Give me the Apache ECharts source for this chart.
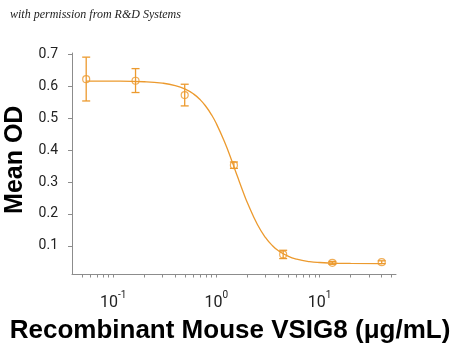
<!DOCTYPE html>
<html>
<head>
<meta charset="utf-8">
<script src="https://cdn.jsdelivr.net/npm/echarts@6/dist/echarts.min.js"></script>
<style>
  html, body { margin: 0; padding: 0; background: #fff; }
  #main { width: 450px; height: 352px; }
</style>
</head>
<body>
<div id="main"></div>
<script>
// measured points (ug/mL, mean OD, error bar ends)
const concentrations = [0.0549, 0.165, 0.494, 1.48, 4.44, 13.3, 40];
const meanOD = [0.623, 0.618, 0.573, 0.353, 0.073, 0.0465, 0.0487];
const errLow = [0.5545, 0.581, 0.539, 0.343, 0.060, 0.042, 0.044];
const errHigh = [0.692, 0.656, 0.607, 0.363, 0.086, 0.051, 0.053];

// fitted curve
const curveConc = [0.0549, 0.1, 0.2, 0.3, 0.4, 0.5, 0.6, 0.7, 0.8, 0.9, 1.0, 1.2, 1.4, 1.6, 1.8, 2.0, 2.5, 3.0, 3.5, 4.0, 5.0, 6.0, 8.0, 10, 15, 20, 40];
const curveOD = [0.617, 0.6167, 0.6148, 0.6105, 0.603, 0.5918, 0.5767, 0.5579, 0.5356, 0.5107, 0.4836, 0.4264, 0.370, 0.318, 0.273, 0.235, 0.1667, 0.1256, 0.1004, 0.0844, 0.0667, 0.0581, 0.0505, 0.0476, 0.0452, 0.0447, 0.0441];

// axis ticks
const yTicks = [0.1, 0.2, 0.3, 0.4, 0.5, 0.6, 0.7];
const xTickConc = [0.05, 0.06, 0.07, 0.08, 0.09, 0.1, 0.2, 0.3, 0.4, 0.5, 0.6, 0.7, 0.8, 0.9, 1,
                   2, 3, 4, 5, 6, 7, 8, 9, 10, 20, 30, 40, 50];

const orange = '#EC9A2E';
const axisGray = '#8c8c8c';
const tickFont = 'Roboto, sans-serif';

let myChart = echarts.init(document.getElementById('main'));

let options = {
    backgroundColor: '#fff',
    animation: false,
    graphic: [{
        type: 'text',
        left: 10,
        top: 9,
        style: {
            text: 'with permission from R&D Systems',
            font: 'italic 12px "Liberation Serif", serif',
            fill: '#222'
        }
    }],
    grid: { left: 72, right: 54, top: 53, bottom: 77.5, outerBoundsMode: 'none' },
    xAxis: [{
        type: 'log',
        logBase: 10,
        min: 0.04,
        max: 55,
        position: 'bottom',
        axisLine: { onZero: false, lineStyle: { color: axisGray, width: 1 } },
        axisTick: { show: false },
        splitLine: { show: false },
        axisLabel: {
            margin: 16,
            formatter: function (v) {
                let p = Math.log10(v);
                if (Math.abs(p - Math.round(p)) > 1e-6) return '';
                return '{b|10}{s|' + Math.round(p) + '}';
            },
            rich: {
                b: { fontFamily: tickFont, fontSize: 16, color: '#222', lineHeight: 20, verticalAlign: 'bottom' },
                s: { fontFamily: tickFont, fontSize: 10, color: '#222', lineHeight: 10, verticalAlign: 'top' }
            }
        },
        name: 'Recombinant Mouse VSIG8 (\u03bcg/mL)',
        nameLocation: 'middle',
        nameGap: 43,
        nameTextStyle: {
            fontFamily: '"Liberation Sans", Arial, sans-serif',
            fontWeight: 'bold',
            fontSize: 26,
            color: '#000',
            padding: [0, 8, 0, 0]
        }
    }, {
        // tick marks only, drawn on a linear axis in log10 units
        type: 'value',
        min: Math.log10(0.04),
        max: Math.log10(55),
        position: 'bottom',
        axisLine: { show: false, onZero: false },
        splitLine: { show: false },
        axisLabel: { show: false },
        axisTick: {
            show: true,
            length: 3,
            customValues: xTickConc.map(v => Math.log10(v)),
            lineStyle: { color: axisGray }
        }
    }],
    yAxis: {
        type: 'value',
        min: 0.01,
        max: 0.705,
        axisLine: { show: true, onZero: false, lineStyle: { color: axisGray, width: 1 } },
        axisTick: { show: true, length: 4, customValues: yTicks, lineStyle: { color: axisGray } },
        splitLine: { show: false },
        axisLabel: {
            customValues: yTicks,
            margin: 14,
            fontFamily: tickFont,
            fontSize: 14,
            color: '#222',
            formatter: v => v.toFixed(1)
        },
        name: 'Mean OD',
        nameLocation: 'middle',
        nameRotate: 90,
        nameGap: 44,
        nameTextStyle: {
            fontFamily: '"Liberation Sans", Arial, sans-serif',
            fontWeight: 'bold',
            fontSize: 25,
            color: '#000',
            padding: [0, 0, 0, 8]
        }
    },
    series: [{
        name: 'fit',
        type: 'line',
        xAxisIndex: 0,
        data: curveConc.map((c, i) => [c, curveOD[i]]),
        smooth: true,
        showSymbol: false,
        lineStyle: { color: orange, width: 1.3 },
        z: 2
    }, {
        name: 'error',
        type: 'custom',
        xAxisIndex: 0,
        data: concentrations.map((c, i) => [c, errLow[i], errHigh[i]]),
        renderItem: function (params, api) {
            let lo = api.coord([api.value(0), api.value(1)]);
            let hi = api.coord([api.value(0), api.value(2)]);
            let w = 4;
            let style = { stroke: orange, lineWidth: 1.3, fill: null };
            return {
                type: 'group',
                children: [
                    { type: 'line', shape: { x1: lo[0], y1: lo[1], x2: hi[0], y2: hi[1] }, style: style },
                    { type: 'line', shape: { x1: lo[0] - w, y1: lo[1], x2: lo[0] + w, y2: lo[1] }, style: style },
                    { type: 'line', shape: { x1: hi[0] - w, y1: hi[1], x2: hi[0] + w, y2: hi[1] }, style: style }
                ]
            };
        },
        z: 3
    }, {
        name: 'Mean OD',
        type: 'scatter',
        xAxisIndex: 0,
        data: concentrations.map((c, i) => [c, meanOD[i]]),
        symbol: 'circle',
        symbolSize: 7,
        itemStyle: { color: 'rgba(255,255,255,0)', borderColor: orange, borderWidth: 1.2 },
        z: 4
    }]
};
myChart.setOption(options, true);
</script>
</body>
</html>
